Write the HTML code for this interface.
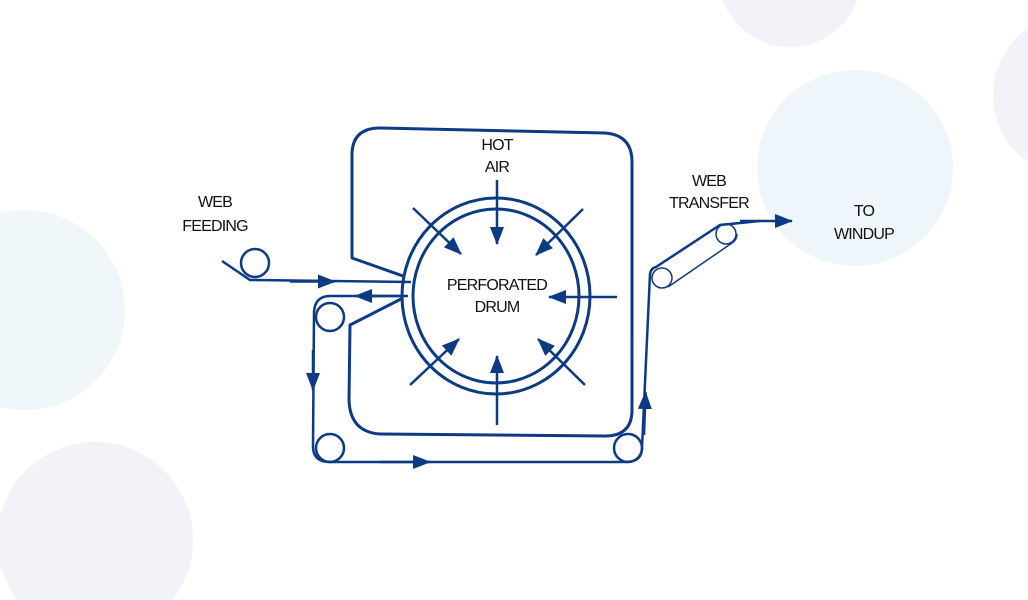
<!DOCTYPE html>
<html><head><style>
html,body{margin:0;padding:0;background:#fff;overflow:hidden;width:1028px;height:600px;}
svg{display:block;}
text{font-family:"Liberation Sans",sans-serif;font-size:16px;fill:#111;text-anchor:middle;letter-spacing:-0.8px;}
</style></head><body>
<svg width="1028" height="600" viewBox="0 0 1028 600" xmlns="http://www.w3.org/2000/svg">
<defs>
<marker id="ah" viewBox="0 0 18 14" refX="17" refY="7" markerWidth="18" markerHeight="14" markerUnits="userSpaceOnUse" orient="auto"><path d="M0,0 L18,7 L0,14 z" fill="#0d3a85"/></marker>
</defs>
<circle cx="790" cy="-25" r="72" fill="#f2f3f8"/>
<circle cx="1075" cy="95" r="82" fill="#f2f3f8"/>
<circle cx="855" cy="168" r="98" fill="#eef6fb"/>
<circle cx="25" cy="310" r="100" fill="#eff7fb"/>
<circle cx="95" cy="540" r="98" fill="#f2f3f8"/>

<g fill="none" stroke="#0d3a85" stroke-width="3" stroke-linejoin="round">
<path d="M403,276 L352,258 L352,155 Q352,128 380,128 L605,133 Q632,135 632,162 L632,410 Q632,436 605,436 L380,434 Q350,432 349,400 L350,325 L403,298"/>
<ellipse cx="496" cy="296" rx="94" ry="98"/>
<ellipse cx="496" cy="296" rx="83" ry="87"/>
</g>
<g fill="none" stroke="#0d3a85" stroke-width="2.5">
<circle cx="255" cy="263" r="14"/>
<path d="M222,261 L250,280 L411,282"/>
<path d="M408,296 L330,296 Q315,296 314,312 L313,448 Q314,462 330,462 L625,462 Q642,462 642,448 L650,274 Q651,268 656,267 L720,225 L760,221"/>
<circle cx="330" cy="317" r="14"/>
<circle cx="330" cy="448" r="14"/>
<circle cx="628" cy="448" r="14"/>
</g>
<g fill="none" stroke="#0d3a85" stroke-width="1.5">
<circle cx="662" cy="278" r="10"/>
<circle cx="726" cy="234" r="10"/>
<path d="M668,287 L732,243 M737,234 Q737,240 732,243"/>
</g>
<g stroke="#0d3a85" stroke-width="2.5" fill="none" marker-end="url(#ah)">
<line x1="290" y1="281.5" x2="335" y2="281.5"/>
<line x1="400" y1="296" x2="355" y2="296"/>
<line x1="313" y1="350" x2="313" y2="390"/>
<line x1="380" y1="462" x2="430" y2="462"/>
<line x1="644" y1="435" x2="645.5" y2="392"/>
<line x1="740" y1="221" x2="792" y2="221"/>
<line x1="497" y1="180" x2="497" y2="244"/>
<line x1="497" y1="425" x2="497" y2="356"/>
<line x1="617" y1="297" x2="549" y2="297"/>
<line x1="413" y1="208" x2="461" y2="254"/>
<line x1="583" y1="209" x2="536" y2="255"/>
<line x1="410" y1="385" x2="459" y2="339"/>
<line x1="585" y1="385" x2="538" y2="339"/>
</g>
<text x="497" y="150">HOT</text>
<text x="497" y="172">AIR</text>
<text x="215" y="207">WEB</text>
<text x="215" y="231">FEEDING</text>
<text x="497" y="290">PERFORATED</text>
<text x="497" y="312">DRUM</text>
<text x="709" y="186">WEB</text>
<text x="709" y="208">TRANSFER</text>
<text x="864" y="216">TO</text>
<text x="864" y="239">WINDUP</text>
</svg>
</body></html>
